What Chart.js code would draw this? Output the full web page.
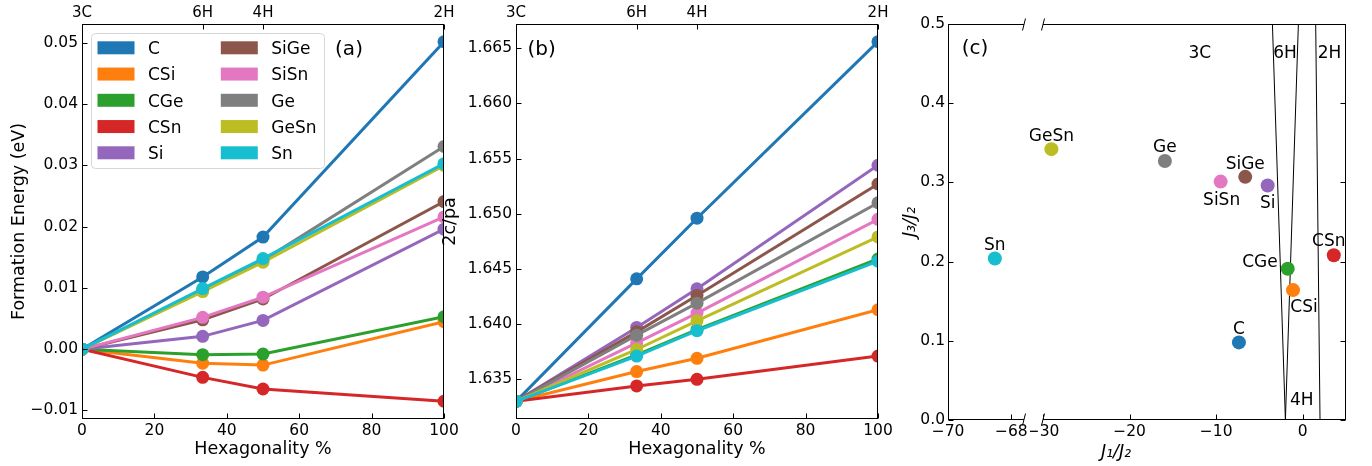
<!DOCTYPE html>
<html>
<head>
<meta charset="utf-8">
<script src="https://cdn.jsdelivr.net/npm/chart.js@4.4.1/dist/chart.umd.min.js"></script>
<style>
  html, body { margin: 0; padding: 0; background: #fff; }
  body { width: 1372px; height: 466px; position: relative; overflow: hidden; }
  canvas { position: absolute; top: 0; }
</style>
</head>
<body>
<canvas id="chartA" width="460" height="466" style="left:0px"></canvas>
<canvas id="chartB" width="460" height="466" style="left:440px"></canvas>
<canvas id="chartCL" width="160" height="466" style="left:880px"></canvas>
<canvas id="chartCR" width="342" height="466" style="left:1030px"></canvas>
<script>
const FAMILY = "'DejaVu Sans', sans-serif";
const TICK = 15.5;
Chart.defaults.font.family = FAMILY;
Chart.defaults.color = '#000';

// shared
const hexPct = [0, 100 / 3, 50, 100];
const polytypes = ['3C', '6H', '4H', '2H'];
const hexTicks = [0, 20, 40, 60, 80, 100];
const compounds = ['C', 'CSi', 'CGe', 'CSn', 'Si', 'SiGe', 'SiSn', 'Ge', 'GeSn', 'Sn'];
const colors = ['#1f77b4', '#ff7f0e', '#2ca02c', '#d62728', '#9467bd',
                '#8c564b', '#e377c2', '#7f7f7f', '#bcbd22', '#17becf'];

// (a) formation energy (eV) at 3C, 6H, 4H, 2H
const eC    = [0, 0.0118, 0.0183, 0.0502];
const eCSi  = [0, -0.0023, -0.0026, 0.0045];
const eCGe  = [0, -0.0009, -0.0008, 0.0053];
const eCSn  = [0, -0.0046, -0.0065, -0.0085];
const eSi   = [0, 0.0021, 0.0047, 0.0196];
const eSiGe = [0, 0.0048, 0.0082, 0.0241];
const eSiSn = [0, 0.0052, 0.0085, 0.0216];
const eGe   = [0, 0.0096, 0.0145, 0.0331];
const eGeSn = [0, 0.0094, 0.0142, 0.0300];
const eSn   = [0, 0.0099, 0.0148, 0.0303];
const yTicksA = [-0.01, 0, 0.01, 0.02, 0.03, 0.04, 0.05];

// (b) 2c/pa at 3C, 6H, 4H, 2H
const cC    = [1.6330, 1.6441, 1.6496, 1.6656];
const cCSi  = [1.6330, 1.6357, 1.6369, 1.6413];
const cCGe  = [1.6330, 1.6372, 1.6395, 1.6459];
const cCSn  = [1.6330, 1.6344, 1.6350, 1.6371];
const cSi   = [1.6330, 1.6397, 1.6432, 1.6544];
const cSiGe = [1.6330, 1.6393, 1.6426, 1.6527];
const cSiSn = [1.6330, 1.6383, 1.6410, 1.6495];
const cGe   = [1.6330, 1.6390, 1.6419, 1.6510];
const cGeSn = [1.6330, 1.6377, 1.6403, 1.6479];
const cSn   = [1.6330, 1.6371, 1.6394, 1.6457];
const yTicksB = [1.635, 1.640, 1.645, 1.650, 1.655, 1.660, 1.665];

// (c) exchange ratios
const j1j2 = [-7.37, -1.12, -1.73, 3.59, -4.05, -6.64, -9.48, -15.92, -29.03, -68.52];
const j3j2 = [0.098, 0.164, 0.191, 0.208, 0.296, 0.307, 0.301, 0.327, 0.342, 0.204];
const jTicksY = [0, 0.1, 0.2, 0.3, 0.4, 0.5];
const jTicksLeft = [-70, -68];
const jTicksRight = [-30, -20, -10, 0];
const bound1X = [-3.5, -2.0];
const bound2X = [-0.5, -2.0];
const bound3X = [1.5, 2.0];
const boundY = [0.5, 0.0];
const regionNames = ['3C', '6H', '2H', '4H'];
const regionX = [-11.88, -2.05, 3.1, -0.1];
const regionY = [0.4635, 0.4635, 0.4635, 0.0255];

// where each name sits around its dot: [dx, dy, align] in px
const labelPlace = {
  C: [0, -14, 'center'], CSi: [11, 16, 'center'], CGe: [-10, -7, 'right'],
  CSn: [-5, -14.5, 'center'], Si: [0, 17.5, 'center'], SiGe: [0, -13.5, 'center'],
  SiSn: [1, 17.5, 'center'], Ge: [0, -14.5, 'center'], GeSn: [0, -13.5, 'center'],
  Sn: [0, -14, 'center']
};

const minus = s => String(s).replace('-', '\u2212');
const fixedTicks = list => axis => { axis.ticks = list.map(v => ({value: v})); };
const zeroPad = s => { s.paddingLeft = s.paddingRight = s.paddingTop = s.paddingBottom = 0; };
const noGrid = {display: false, drawTicks: false};
const noBorder = {display: false};

// spines, inward ticks and broken-axis marks
const frame = {
  id: 'frame',
  afterDatasetsDraw(chart, args, o) {
    const {ctx, chartArea: a, scales} = chart;
    const L = Math.round(a.left) + 0.5, R = Math.round(a.right) - 0.5;
    const T = Math.round(a.top) + 0.5, B = Math.round(a.bottom) - 0.5;
    const sides = o.sides || '';
    ctx.save();
    ctx.strokeStyle = '#000';
    ctx.lineWidth = 1;
    ctx.beginPath();
    if (sides.includes('l')) { ctx.moveTo(L, T); ctx.lineTo(L, B); }
    if (sides.includes('r')) { ctx.moveTo(R, T); ctx.lineTo(R, B); }
    if (sides.includes('t')) { ctx.moveTo(L - 0.5, T); ctx.lineTo(R + 0.5, T); }
    if (sides.includes('b')) { ctx.moveTo(L - 0.5, B); ctx.lineTo(R + 0.5, B); }
    (o.ticks || []).forEach(spec => {
      const [id, side] = spec.split(':');
      const sc = scales[id];
      sc.ticks.forEach(t => {
        const p = Math.round(sc.getPixelForValue(t.value)) + 0.5;
        if (side === 'l') { ctx.moveTo(L, p); ctx.lineTo(L + 5, p); }
        if (side === 'r') { ctx.moveTo(R, p); ctx.lineTo(R - 5, p); }
        if (side === 't') { ctx.moveTo(p, T); ctx.lineTo(p, T + 5); }
        if (side === 'b') { ctx.moveTo(p, B); ctx.lineTo(p, B - 5); }
      });
    });
    if (o.breakAt) {
      const bx = o.breakAt === 'r' ? R + 0.5 : L - 0.5;
      [T, B].forEach(by => { ctx.moveTo(bx - 1.5, by + 6); ctx.lineTo(bx + 1.5, by - 6); });
    }
    ctx.stroke();
    ctx.restore();
  }
};

const panelTag = {
  id: 'panelTag',
  afterDatasetsDraw(chart, args, o) {
    if (!o.text) return;
    const {ctx, chartArea: a} = chart;
    ctx.save();
    ctx.font = '20px ' + FAMILY;
    ctx.fillStyle = '#000';
    ctx.textAlign = 'center';
    ctx.textBaseline = 'middle';
    ctx.fillText(o.text, a.left + o.dx, a.top + o.dy + 1);
    ctx.restore();
  }
};

const legendBox = {
  id: 'legendBox',
  afterDatasetsDraw(chart, args, o) {
    if (!o.show) return;
    const {ctx, chartArea: a} = chart;
    const x0 = a.left + 9.5, y0 = a.top + 9.5;
    ctx.save();
    ctx.beginPath();
    ctx.roundRect(x0, y0, 233, 135, 4);
    ctx.fillStyle = 'rgba(255,255,255,0.8)';
    ctx.fill();
    ctx.strokeStyle = '#d6d6d6';
    ctx.lineWidth = 1;
    ctx.stroke();
    ctx.font = '17px ' + FAMILY;
    ctx.textBaseline = 'middle';
    ctx.textAlign = 'left';
    chart.data.datasets.forEach((ds, i) => {
      const col = Math.floor(i / 5), row = i % 5;
      const hx = x0 + 6 + col * 123.3, hy = y0 + 14.3 + row * 26.25;
      ctx.fillStyle = ds.borderColor;
      ctx.fillRect(hx, hy - 6.5, 37, 13);
      ctx.fillStyle = '#000';
      ctx.fillText(ds.label, hx + 50.5, hy + 2);
    });
    ctx.restore();
  }
};

const pointNames = {
  id: 'pointNames',
  afterDatasetsDraw(chart) {
    const {ctx, chartArea: a} = chart;
    const meta = chart.getDatasetMeta(0);
    ctx.save();
    ctx.font = '17px ' + FAMILY;
    ctx.fillStyle = '#000';
    ctx.textBaseline = 'middle';
    meta.data.forEach((pt, i) => {
      if (pt.x < a.left || pt.x > a.right) return;
      const [dx, dy, align] = labelPlace[compounds[i]];
      ctx.textAlign = align;
      ctx.fillText(compounds[i], pt.x + dx, pt.y + dy + 1);
    });
    ctx.restore();
  }
};

const regions = {
  id: 'regions',
  afterDatasetsDraw(chart, args, o) {
    if (!o.show) return;
    const {ctx, scales: {x, y}} = chart;
    ctx.save();
    ctx.font = '17px ' + FAMILY;
    ctx.fillStyle = '#000';
    ctx.textAlign = 'center';
    ctx.textBaseline = 'middle';
    regionNames.forEach((n, i) => {
      ctx.fillText(n, x.getPixelForValue(regionX[i]), y.getPixelForValue(regionY[i]) + 1);
    });
    // shared x label of the broken axis
    ctx.font = 'italic 17.5px ' + FAMILY;
    ctx.fillText('J\u2081/J\u2082', chart.chartArea.left + 73, 452);
    ctx.restore();
  }
};

function makeLinePanel(canvasId, series, opt) {
  return new Chart(document.getElementById(canvasId), {
    type: 'line',
    data: {
      datasets: series.map((vals, i) => ({
        label: compounds[i],
        data: hexPct.map((x, k) => ({x, y: vals[k]})),
        borderColor: colors[i],
        backgroundColor: colors[i],
        pointBackgroundColor: colors[i],
        pointBorderWidth: 0,
        borderWidth: 3,
        pointRadius: 6.5,
        tension: 0,
        clip: 0,
        order: -i
      }))
    },
    options: {
      responsive: false,
      animation: false,
      events: [],
      layout: {padding: {top: 0, bottom: 0, left: 0, right: opt.padRight}},
      plugins: {
        legend: {display: false},
        tooltip: {enabled: false},
        frame: {sides: 'lrtb', ticks: ['y:l', 'x:b', 'x2:t']},
        panelTag: {text: opt.tag, dx: opt.tagDx, dy: 24.3},
        legendBox: {show: opt.legend}
      },
      scales: {
        x: {
          type: 'linear', position: 'bottom', min: 0, max: 100,
          afterBuildTicks: fixedTicks(hexTicks),
          ticks: {font: {size: TICK}, padding: 3, maxRotation: 0, autoSkip: false, callback: v => String(v)},
          grid: noGrid, border: noBorder,
          title: {display: true, text: 'Hexagonality %', font: {size: 17.5}, padding: {top: 0, bottom: 6}},
          afterFit: s => { s.height = 47; zeroPad(s); }
        },
        x2: {
          type: 'linear', position: 'top', min: 0, max: 100,
          afterBuildTicks: fixedTicks(hexPct),
          ticks: {font: {size: 15}, padding: 2, maxRotation: 0, autoSkip: false, callback: (v, i) => polytypes[i]},
          grid: noGrid, border: noBorder,
          afterFit: s => { s.height = 24; zeroPad(s); }
        },
        y: {
          type: 'linear', position: 'left', min: opt.yMin, max: opt.yMax,
          afterBuildTicks: fixedTicks(opt.yTicks),
          ticks: {font: {size: TICK}, padding: 4, autoSkip: false, callback: v => minus(v.toFixed(opt.dec))},
          grid: noGrid, border: noBorder,
          title: {display: true, text: opt.yTitle, font: {size: 17.5}, padding: {top: opt.yTitlePad, bottom: 0}},
          afterFit: s => { s.width = opt.yWidth; zeroPad(s); }
        }
      }
    },
    plugins: [frame, panelTag, legendBox]
  });
}

makeLinePanel('chartA', [eC, eCSi, eCGe, eCSn, eSi, eSiGe, eSiSn, eGe, eGeSn, eSn], {
  yMin: -0.0114, yMax: 0.0531, yTicks: yTicksA, dec: 2,
  yTitle: 'Formation Energy (eV)', yTitlePad: 9, yWidth: 82, padRight: 16,
  tag: '(a)', tagDx: 267, legend: true
});

makeLinePanel('chartB', [cC, cCSi, cCGe, cCSn, cSi, cSiGe, cSiSn, cGe, cGeSn, cSn], {
  yMin: 1.6314, yMax: 1.6672, yTicks: yTicksB, dec: 3,
  yTitle: '2c/pa', yTitlePad: 0, yWidth: 76, padRight: 22,
  tag: '(b)', tagDx: 25.7, legend: false
});

function jDatasets() {
  const line = xs => ({
    type: 'line',
    data: xs.map((x, k) => ({x, y: boundY[k]})),
    borderColor: '#000', borderWidth: 1, pointRadius: 0,
    showLine: true, fill: false, clip: 0, order: 1
  });
  return [
    {
      data: j1j2.map((x, i) => ({x, y: j3j2[i]})),
      pointBackgroundColor: colors, backgroundColor: colors,
      pointBorderWidth: 0, pointRadius: 7, clip: 0, order: 0
    },
    line(bound1X), line(bound2X), line(bound3X)
  ];
}

function makeJPanel(canvasId, opt) {
  return new Chart(document.getElementById(canvasId), {
    type: 'scatter',
    data: {datasets: jDatasets()},
    options: {
      responsive: false,
      animation: false,
      events: [],
      layout: {padding: {top: 24, bottom: 0, left: opt.padLeft, right: opt.padRight}},
      plugins: {
        legend: {display: false},
        tooltip: {enabled: false},
        frame: opt.frame,
        panelTag: {text: opt.tag, dx: 27, dy: 23.7},
        regions: {show: opt.regions}
      },
      scales: {
        x: {
          type: 'linear', position: 'bottom', min: opt.xMin, max: opt.xMax,
          afterBuildTicks: fixedTicks(opt.xTicks),
          ticks: {font: {size: TICK}, padding: 3, maxRotation: 0, autoSkip: false, callback: v => minus(v)},
          grid: noGrid, border: noBorder,
          afterFit: s => { s.height = 46; zeroPad(s); }
        },
        y: {
          type: 'linear', position: 'left', min: 0, max: 0.5, display: opt.showY,
          afterBuildTicks: fixedTicks(jTicksY),
          ticks: {font: {size: TICK}, padding: 3, autoSkip: false, callback: v => v.toFixed(1)},
          grid: noGrid, border: noBorder,
          title: {display: true, text: 'J\u2083/J\u2082', font: {size: 17.5, style: 'italic'}, padding: {top: 19.5, bottom: 0}},
          afterFit: s => { s.width = opt.showY ? 68 : 0; zeroPad(s); }
        }
      }
    },
    plugins: [frame, panelTag, pointNames, regions]
  });
}

makeJPanel('chartCL', {
  xMin: -70, xMax: -67.6, xTicks: jTicksLeft, showY: true,
  padLeft: 0, padRight: 16, tag: '(c)', regions: false,
  frame: {sides: 'ltb', ticks: ['y:l', 'x:b'], breakAt: 'r'}
});

makeJPanel('chartCR', {
  xMin: -30, xMax: 5, xTicks: jTicksRight, showY: false,
  padLeft: 13, padRight: 26, tag: '', regions: true,
  frame: {sides: 'rtb', ticks: ['y:r', 'x:b'], breakAt: 'l'}
});
</script>
</body>
</html>
